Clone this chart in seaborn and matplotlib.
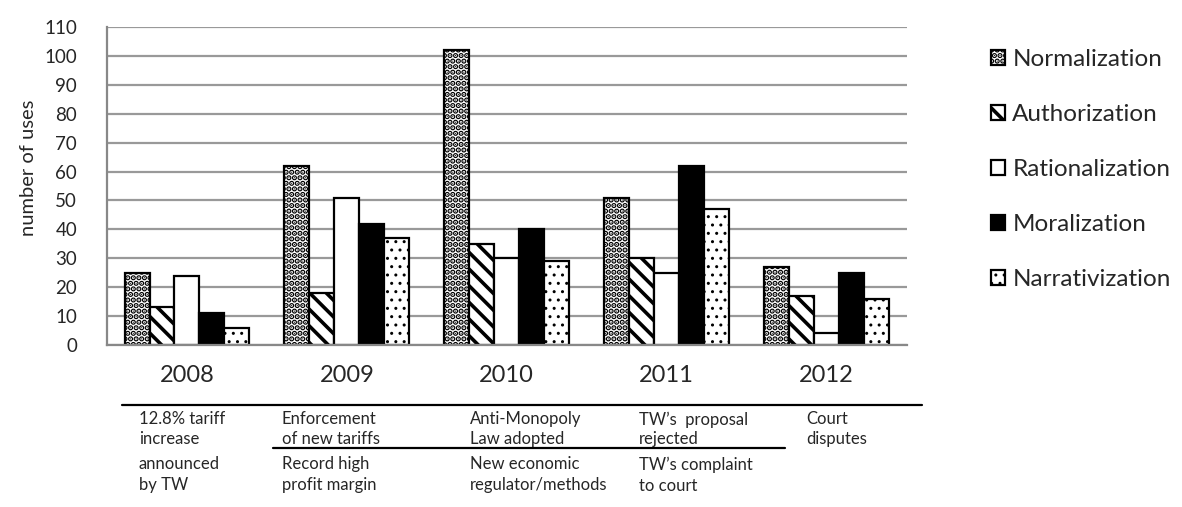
import matplotlib.pyplot as plt
from matplotlib.lines import Line2D
import pandas as pd
import seaborn as sns

years = ["2008", "2009", "2010", "2011", "2012"]
strategies = ["Normalization", "Authorization", "Rationalization", "Moralization", "Narrativization"]
normalization = [25, 62, 102, 51, 27]
authorization = [13, 18, 35, 30, 17]
rationalization = [24, 51, 30, 25, 4]
moralization = [11, 42, 40, 62, 25]
narrativization = [6, 37, 29, 47, 16]

events_top = [
    "12.8% tariff\nincrease",
    "Enforcement\nof new tariffs",
    "Anti-Monopoly\nLaw adopted",
    "TW\u2019s  proposal\nrejected",
    "Court\ndisputes",
]
events_bottom = [
    "announced\nby TW",
    "Record high\nprofit margin",
    "New economic\nregulator/methods",
    "TW\u2019s complaint\nto court",
    "",
]

values = [normalization, authorization, rationalization, moralization, narrativization]
df = pd.DataFrame(
    [(y, s, v[i]) for s, v in zip(strategies, values) for i, y in enumerate(years)],
    columns=["Year", "Strategy", "Uses"],
)

sns.set_style("white")
plt.rcParams["font.family"] = ["Lato", "DejaVu Sans"]
plt.rcParams["hatch.linewidth"] = 2.2
plt.rcParams["hatch.color"] = "black"

fig = plt.figure(figsize=(11.82, 5.07), dpi=100)
ax = fig.add_axes([0.0905, 0.3195, 0.6765, 0.6272])

fills = ["white", "white", "white", "black", "white"]
hatches = ["...", "\\\\", "", "", ".."]
hatch_lw = [2.8, 2.6, 1, 1, 1.0]

sns.barplot(
    data=df, x="Year", y="Uses", hue="Strategy", hue_order=strategies,
    palette=fills, width=0.78, edgecolor="black", linewidth=1.6,
    saturation=1, ax=ax,
)
for cont, h, lw in zip(ax.containers, hatches, hatch_lw):
    for bar in cont:
        bar.set_hatch(h)
        if hasattr(bar, "set_hatch_linewidth"):
            bar.set_hatch_linewidth(lw)

ax.set_ylim(0, 110)
ax.set_yticks(range(0, 111, 10))
ax.set_xlim(-0.5, 4.5)
ax.yaxis.grid(True, color="#999999", linewidth=1.6)
ax.set_axisbelow(True)
for side in ["top", "right"]:
    ax.spines[side].set_visible(False)
for side in ["left", "bottom"]:
    ax.spines[side].set_color("#888888")
    ax.spines[side].set_linewidth(1.6)
ax.tick_params(axis="y", left=False, labelsize=13.5, pad=18)
ax.tick_params(axis="x", bottom=False, labelsize=17, pad=11)
ax.set_xlabel("")
ax.set_ylabel("number of uses", fontsize=14.5)
ax.yaxis.set_label_coords(-0.0875, 0.557)

leg = ax.legend(
    loc="upper left", bbox_to_anchor=(991 / 1182, 1 - 49 / 507),
    bbox_transform=fig.transFigure, frameon=False, fontsize=17.5,
    handlelength=0.58, handleheight=0.58, handletextpad=0.3, labelspacing=1.4,
    borderpad=0, borderaxespad=0,
)
for hnd, h, lw in zip(leg.legend_handles, hatches, hatch_lw):
    hnd.set_hatch(h)
    hnd.set_edgecolor("black")
    hnd.set_linewidth(1.6)
    if hasattr(hnd, "set_hatch_linewidth"):
        hnd.set_hatch_linewidth(lw)

# event table below the axis
col_x = [-0.30, 0.594, 1.77, 2.825, 3.875]
tr = ax.get_xaxis_transform()
for x, t in zip(col_x, events_top):
    ax.text(x, -0.208, t, transform=tr, ha="left", va="top", fontsize=12,
            linespacing=1.3)
for x, t in zip(col_x, events_bottom):
    ax.text(x, -0.35, t, transform=tr, ha="left", va="top", fontsize=12,
            linespacing=1.38)
fig.add_artist(Line2D([122 / 1182, 922 / 1182], [1 - 405 / 507] * 2, color="black", lw=1.6))
fig.add_artist(Line2D([273 / 1182, 785 / 1182], [1 - 448 / 507] * 2, color="black", lw=1.6))

fig.savefig("out.png", dpi=100)
